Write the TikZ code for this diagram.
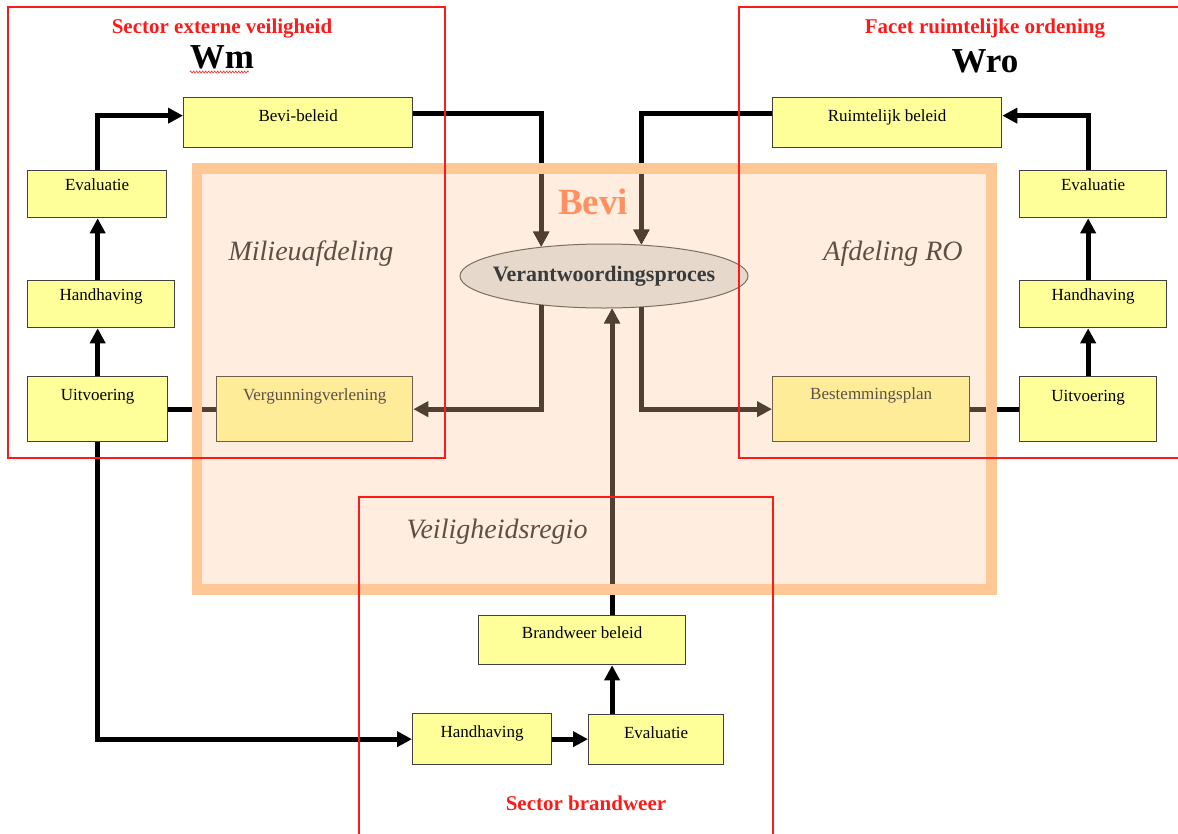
\documentclass[tikz,border=0pt]{standalone}
\usepackage{fontspec}
\setmainfont{Liberation Serif}
\usetikzlibrary{arrows.meta,shapes.geometric,decorations.pathmorphing,calc}
\definecolor{boxyel}{HTML}{FFFF99}
\definecolor{boxline}{HTML}{404040}
\definecolor{iboxfill}{HTML}{FFEC99}
\definecolor{iboxline}{HTML}{6E5E4E}
\definecolor{iboxtext}{HTML}{5A5048}
\definecolor{orfill}{HTML}{FFEEDF}
\definecolor{orline}{HTML}{FFC796}
\definecolor{brn}{HTML}{4F4033}
\definecolor{redc}{HTML}{FF1A1A}
\definecolor{elfill}{HTML}{E6D9CC}
\definecolor{elline}{HTML}{7A6E64}
\definecolor{elltext}{HTML}{3A3A3A}
\definecolor{bevic}{HTML}{FF9060}
\definecolor{italc}{HTML}{5C5046}
\tikzset{
 box/.style={draw=boxline, line width=1.3pt, fill=boxyel, inner sep=0pt, anchor=north west, font=\fontsize{17}{20}\selectfont},
 ibox/.style={box, fill=iboxfill, draw=iboxline, text=iboxtext},
 con/.style={line width=5pt, draw=black},
 bcon/.style={line width=5pt, draw=brn},
 tip/.style={-{Triangle[length=15pt,width=15pt]}},
 redlab/.style={text=redc, font=\fontsize{21}{24}\selectfont\bfseries, anchor=base, inner sep=0pt},
 biglab/.style={font=\fontsize{35}{40}\selectfont\bfseries, anchor=base, inner sep=0pt},
 ital/.style={text=italc, font=\fontsize{28}{32}\selectfont\itshape, anchor=base, inner sep=0pt},
 redbox/.style={draw=redc, line width=1.3pt},
}
\begin{document}
\begin{tikzpicture}[x=1pt,y=-1pt]
\useasboundingbox (0,0) rectangle (1178,833);
% Bevi area background
\fill[orfill] (192,163) rectangle (997,595);

% boxes
\node[box, minimum width=229pt, text height=24pt, text depth=26pt] (bevi) at (183,97) {Bevi-beleid};
\node[box, minimum width=139pt, text height=20pt, text depth=27pt] (levl) at (27,170) {Evaluatie};
\node[box, minimum width=147pt, text height=20pt, text depth=27pt] (lhh) at (27,280) {Handhaving};
\node[box, minimum width=140pt, text height=24pt, text depth=41pt] (luit) at (27,376) {Uitvoering};
\node[ibox, minimum width=196pt, text height=24pt, text depth=41pt] (verg) at (216,376) {Vergunningverlening};
\node[box, minimum width=229pt, text height=24pt, text depth=26pt] (ruim) at (772,97) {Ruimtelijk beleid};
\node[box, minimum width=147pt, text height=20pt, text depth=27pt] (revl) at (1019,170) {Evaluatie};
\node[box, minimum width=147pt, text height=20pt, text depth=27pt] (rhh) at (1019,280) {Handhaving};
\node[box, minimum width=137pt, text height=25pt, text depth=40pt] (ruit) at (1019,376) {Uitvoering};
\node[ibox, minimum width=197pt, text height=23pt, text depth=42pt] (best) at (772,376) {Bestemmingsplan};
\node[box, minimum width=207pt, text height=23pt, text depth=26pt] (brw) at (478,615) {Brandweer beleid};
\node[box, minimum width=139pt, text height=24pt, text depth=27pt] (bhh) at (412,713) {Handhaving};
\node[box, minimum width=135pt, text height=24pt, text depth=26pt] (bevl) at (588,714) {Evaluatie};

\node[ellipse, draw=elline, fill=elfill, line width=1pt, minimum width=288pt, minimum height=64pt, inner sep=0pt,
  label={[font=\fontsize{22}{24}\selectfont\bfseries, text=elltext, inner sep=0pt]center:Verantwoordingsproces}] (ell) at (604,276) {};

% labels inside Bevi area
\node[anchor=base, inner sep=0pt, text=bevic, font=\fontsize{37}{40}\selectfont\bfseries] (bevilab) at (593,214) {Bevi};
\node[ital] (milieu) at (311,260) {Milieuafdeling};
\node[ital] (afdro) at (893,260) {Afdeling RO};
\node[ital] (vrlab) at (497,538) {Veiligheidsregio};

% connectors (black)
\draw[con,tip] (luit.north) -- (luit.north |- lhh.south);
\draw[con,tip] (luit.north |- lhh.north) -- (luit.north |- levl.south);
\draw[con,tip] (luit.north |- levl.north) |- ([yshift=7pt]bevi.west);
\draw[con,tip] ([yshift=9pt]bevi.east) -| (ell.155);
\draw[con,tip] ([yshift=9pt]ruim.west) -| (ell.40);
\draw[con,tip] (ruit.north) -- (ruit.north |- rhh.south);
\draw[con,tip] (ruit.north |- rhh.north) -- (ruit.north |- revl.south);
\draw[con,tip] (ruit.north |- revl.north) |- ([yshift=7pt]ruim.east);
\draw[con] (luit.east) -- (verg.west);
\draw[con] (best.east) -- (ruit.west);
\draw[con,tip] (luit.south) |- (bhh.west);
\draw[con,tip] (bhh.east) -- (bhh.east -| bevl.west);
\draw[con,tip] (ell.284 |- bevl.north) -- (ell.284 |- brw.south);
\draw[con,tip] (ell.284 |- brw.north) -- (ell.284);

% brown parts inside the Bevi area
\begin{scope}
\clip (197,168.5) rectangle (991.5,589.5);
\draw[bcon,tip] ([yshift=9pt]bevi.east) -| (ell.155);
\draw[bcon,tip] ([yshift=9pt]ruim.west) -| (ell.40);
\draw[bcon] (luit.east) -- (verg.west);
\draw[bcon] (best.east) -- (ruit.west);
\draw[bcon,tip] (ell.284 |- brw.north) -- (ell.284);
\end{scope}
\draw[bcon,tip] (ell.205) |- (verg.east);
\draw[bcon,tip] (ell.320) |- (best.west);

% Bevi area border
\draw[orline, line width=10.5pt] (197,168.5) rectangle (991.5,589.5);

% red sector frames
\draw[redbox] (8,7) rectangle (445,458);
\draw[redbox] (1185,7) -- (739,7) -- (739,458) -- (1185,458);
\draw[redbox] (359,840) -- (359,497) -- (773,497) -- (773,840);

% sector titles
\node[redlab] (sev) at (222,33) {Sector externe veiligheid};
\node[biglab] (wm) at (222,68) {Wm};
\draw[redc, line width=0.6pt, decorate, decoration={snake, amplitude=1pt, segment length=3pt}] (wm.base west) ++(0,4) -- ++(59,0);
\node[redlab] (fro) at (985,33) {Facet ruimtelijke ordening};
\node[biglab] (wro) at (985,72) {Wro};
\node[redlab] (sbw) at (586,810) {Sector brandweer};
\end{tikzpicture}
\end{document}
